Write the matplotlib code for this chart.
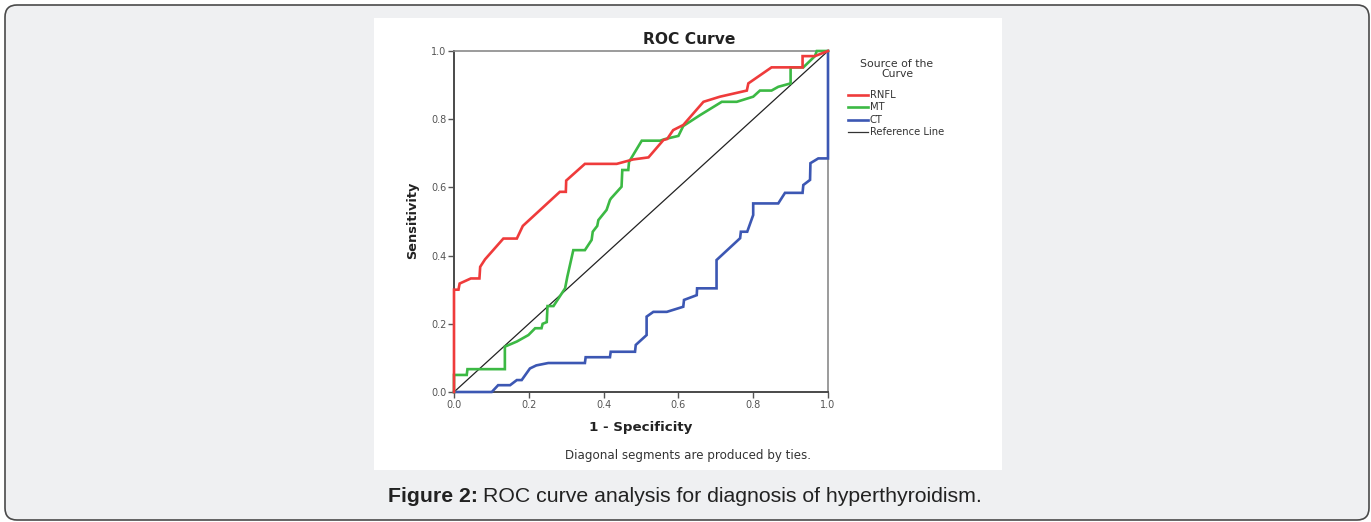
import matplotlib
matplotlib.use("Agg")
import matplotlib.pyplot as plt
from matplotlib.patches import FancyBboxPatch, Rectangle
from matplotlib.lines import Line2D

# ---- data ----
rnfl_x = [0, 0, 0.012, 0.015, 0.045, 0.068, 0.070, 0.083, 0.132, 0.168, 0.184, 0.283, 0.299, 0.300,
          0.350, 0.435, 0.479, 0.520, 0.560, 0.570, 0.586, 0.613, 0.667, 0.711, 0.783, 0.787, 0.849,
          0.932, 0.932, 0.965, 1.0]
rnfl_y = [0, 0.300, 0.300, 0.318, 0.333, 0.333, 0.367, 0.389, 0.450, 0.450, 0.487, 0.587, 0.587, 0.620,
          0.669, 0.669, 0.682, 0.688, 0.739, 0.742, 0.768, 0.783, 0.851, 0.866, 0.884, 0.905, 0.952,
          0.952, 0.985, 0.985, 1.0]

mt_x = [0, 0, 0.034, 0.036, 0.136, 0.136, 0.168, 0.199, 0.217, 0.234, 0.237, 0.248, 0.250, 0.266,
        0.297, 0.303, 0.319, 0.350, 0.368, 0.371, 0.383, 0.386, 0.408, 0.417, 0.420, 0.448, 0.450,
        0.466, 0.468, 0.502, 0.551, 0.565, 0.600, 0.613, 0.658, 0.716, 0.756, 0.800, 0.818, 0.849,
        0.867, 0.900, 0.900, 0.934, 0.965, 0.970, 1.0]
mt_y = [0, 0.050, 0.050, 0.067, 0.067, 0.133, 0.148, 0.167, 0.187, 0.187, 0.200, 0.205, 0.252, 0.252,
        0.304, 0.338, 0.416, 0.416, 0.446, 0.470, 0.487, 0.504, 0.534, 0.563, 0.568, 0.602, 0.651,
        0.651, 0.675, 0.737, 0.737, 0.742, 0.751, 0.780, 0.812, 0.851, 0.851, 0.866, 0.884, 0.884,
        0.895, 0.905, 0.952, 0.952, 0.985, 1.0, 1.0]

ct_x = [0, 0.101, 0.118, 0.150, 0.168, 0.181, 0.203, 0.220, 0.252, 0.350, 0.352, 0.417, 0.419, 0.484,
        0.486, 0.515, 0.515, 0.533, 0.569, 0.613, 0.615, 0.649, 0.650, 0.702, 0.702, 0.765, 0.767,
        0.784, 0.800, 0.800, 0.867, 0.885, 0.932, 0.934, 0.952, 0.953, 0.974, 1.0, 1.0]
ct_y = [0, 0, 0.020, 0.020, 0.035, 0.035, 0.069, 0.078, 0.085, 0.085, 0.102, 0.102, 0.118, 0.118,
        0.138, 0.167, 0.221, 0.235, 0.235, 0.250, 0.270, 0.284, 0.304, 0.304, 0.387, 0.451, 0.470,
        0.470, 0.519, 0.553, 0.553, 0.584, 0.584, 0.607, 0.622, 0.671, 0.685, 0.685, 1.0]

ref_x = [0, 1]
ref_y = [0, 1]

series_names = ["RNFL", "MT", "CT", "Reference Line"]
ticks = [0.0, 0.2, 0.4, 0.6, 0.8, 1.0]
tick_labels = ["0.0", "0.2", "0.4", "0.6", "0.8", "1.0"]

# ---- figure ----
W, H = 1371, 522
fig = plt.figure(figsize=(W / 100, H / 100), dpi=100)
fig.patch.set_facecolor("white")
plt.rcParams['font.family'] = ['DejaVu Sans']
CHART_FONT = ['DejaVu Sans']
CAP_FONT = ['Liberation Sans', 'DejaVu Sans']

def px(x, y):
    return x / W, 1 - y / H

# outer rounded frame
outer = FancyBboxPatch((5, 2), 1364, 515, boxstyle="round,pad=0,rounding_size=12",
                       transform=None, facecolor="#eff0f2", edgecolor="#4a4a4a", linewidth=1.2,
                       zorder=-3)
fig.patches.append(outer)
# white chart panel
x0, y0 = px(374, 470)
panel = Rectangle((x0, y0), 628 / W, 452 / H, transform=fig.transFigure,
                  facecolor="white", edgecolor="none", zorder=-2)
fig.patches.append(panel)

l, b = px(454, 392)
ax = fig.add_axes([l, b, 374 / W, 341 / H])
ax.set_facecolor("white")

red, green, blue = "#ef3b3b", "#3cb944", "#3c57b3"
ax.plot(ref_x, ref_y, color="#222222", lw=0.9, zorder=2)
ax.plot(ct_x, ct_y, color=blue, lw=1.9, zorder=3, solid_joinstyle="miter", clip_on=False)
ax.plot(mt_x, mt_y, color=green, lw=1.9, zorder=4, solid_joinstyle="miter", clip_on=False)
ax.plot(rnfl_x, rnfl_y, color=red, lw=1.9, zorder=5, solid_joinstyle="miter", clip_on=False)

ax.set_xlim(0, 1)
ax.set_ylim(0, 1)
ax.set_xticks(ticks)
ax.set_yticks(ticks)
ax.set_xticklabels(tick_labels)
ax.set_yticklabels(tick_labels)
ax.tick_params(direction="out", length=4, width=1, colors="#555555", labelsize=7, pad=1.5)
for s in ["left", "bottom"]:
    ax.spines[s].set_color("#4a4a4a")
    ax.spines[s].set_linewidth(1.4)
for s in ["top", "right"]:
    ax.spines[s].set_color("#8a8a8a")
    ax.spines[s].set_linewidth(1.2)

# titles and labels
fig.text(*px(689, 40), "ROC Curve", ha="center", va="center", fontsize=11.2, fontweight="bold",
         color="#222222", family=CHART_FONT)
fig.text(*px(413, 220), "Sensitivity", ha="center", va="center", rotation=90, fontsize=9.3,
         fontweight="bold", color="#222222", family=CHART_FONT)
fig.text(*px(641, 427), "1 - Specificity", ha="center", va="center", fontsize=9.6, fontweight="bold",
         color="#222222", family=CHART_FONT)
fig.text(*px(688, 456), "Diagonal segments are produced by ties.", ha="center", va="center",
         fontsize=8.6, color="#333333", family=CHART_FONT)

# legend
fig.text(*px(897, 69), "Source of the\nCurve", ha="center", va="center", fontsize=7.8,
         color="#333333", linespacing=0.95, family=CHART_FONT)
leg_colors = [red, green, blue, "#333333"]
leg_lw = [1.9, 1.9, 1.9, 0.9]
leg_y = [95, 107, 120, 132]
for name, c, lw, yy in zip(series_names, leg_colors, leg_lw, leg_y):
    xa, ya = px(848, yy)
    xb, _ = px(868, yy)
    fig.add_artist(Line2D([xa, xb], [ya, ya], transform=fig.transFigure, color=c, lw=lw))
    fig.text(*px(870, yy), name, ha="left", va="center", fontsize=7.2, color="#333333",
             family=CHART_FONT)

# caption
cx, cy = px(388, 497)
t1 = fig.text(cx, cy, "Figure 2:", ha="left", va="center", fontsize=15.3, fontweight="bold",
              color="#222222", family=CAP_FONT)
fig.canvas.draw()
bb = t1.get_window_extent(renderer=fig.canvas.get_renderer())
fig.text((bb.x1 + 5) / W, cy, "ROC curve analysis for diagnosis of hyperthyroidism.", ha="left",
         va="center", fontsize=15.3, color="#222222", family=CAP_FONT)

fig.savefig("out.png", dpi=100, facecolor="white")
